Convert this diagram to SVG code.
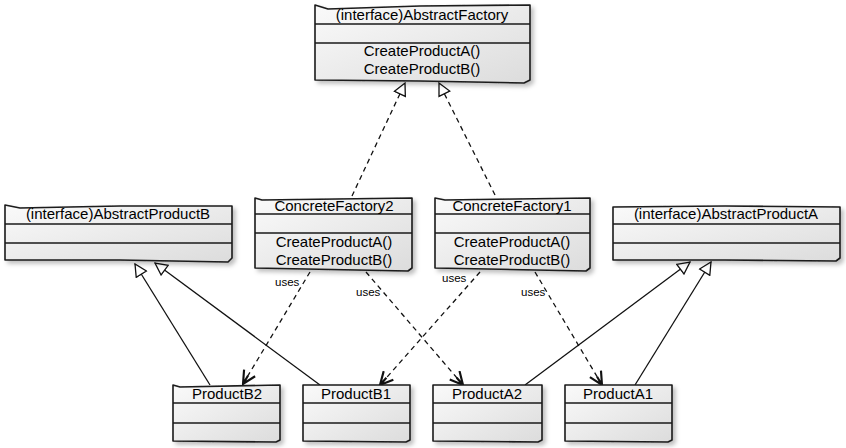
<svg xmlns="http://www.w3.org/2000/svg" width="846" height="448" viewBox="0 0 846 448">
<style>
.box{fill:url(#g);stroke:#1a1a1a;stroke-width:1.6;stroke-linejoin:round;filter:url(#sh)}
.sep{stroke:#1a1a1a;stroke-width:1.4;fill:none}
.t{font-family:"Liberation Sans",Arial,sans-serif;font-size:15px;fill:#000;text-anchor:middle}
.lbl{font-family:"Liberation Sans",Arial,sans-serif;font-size:11.5px;fill:#000}
.dash{stroke:#111;stroke-width:1.3;fill:none;stroke-dasharray:5,4}
.solid{stroke:#111;stroke-width:1.3;fill:none}
</style>
<defs>
<linearGradient id="g" x1="0" y1="0" x2="1" y2="1">
<stop offset="0" stop-color="#fafafa"/>
<stop offset="1" stop-color="#dcdcdc"/>
</linearGradient>
<filter id="sh" x="-5%" y="-5%" width="115%" height="125%">
<feDropShadow dx="3" dy="3" stdDeviation="2" flood-color="#000" flood-opacity="0.25"/>
</filter>
<marker id="tri" viewBox="0 0 14 14" refX="13" refY="7" markerWidth="14" markerHeight="14" markerUnits="userSpaceOnUse" orient="auto">
<path d="M1,1 L13,7 L1,13 Z" fill="#fff" stroke="#111" stroke-width="1.3"/>
</marker>
<marker id="open" viewBox="0 0 14 14" refX="13" refY="7" markerWidth="15" markerHeight="15" markerUnits="userSpaceOnUse" orient="auto">
<path d="M1,1 L13,7 L1,13 M13,7 L4,7" fill="none" stroke="#111" stroke-width="2"/>
</marker>
</defs>

<g id="connectors">
<path class="dash" d="M352,196 L405,83" marker-end="url(#tri)"/>
<path class="dash" d="M495,195 L439,83" marker-end="url(#tri)"/>
<path class="solid" d="M210,385 L135,264" marker-end="url(#tri)"/>
<path class="solid" d="M320,385 L155,263" marker-end="url(#tri)"/>
<path class="solid" d="M525,385 L690,262" marker-end="url(#tri)"/>
<path class="solid" d="M635,385 L711,262" marker-end="url(#tri)"/>
<path class="dash" d="M310,272 L243,384" marker-end="url(#open)"/>
<path class="dash" d="M366,272 L463,385" marker-end="url(#open)"/>
<path class="dash" d="M480,272 L380,385" marker-end="url(#open)"/>
<path class="dash" d="M535,272 L602,385" marker-end="url(#open)"/>
<text class="lbl" x="275" y="286">uses</text>
<text class="lbl" x="356" y="296">uses</text>
<text class="lbl" x="442" y="282">uses</text>
<text class="lbl" x="521" y="296">uses</text>
</g>

<g id="AbstractFactory">
<path class="box" d="M315,5 L328,9 L420,6 L530,5 L530,80 L524,83 L420,81 L315,80 Z"/>
<path class="sep" d="M315,24 L530,24 M315,43 L530,43"/>
<text class="t" x="422" y="20">(interface)AbstractFactory</text>
<text class="t" x="422" y="56">CreateProductA()</text>
<text class="t" x="422" y="74">CreateProductB()</text>
</g>

<g id="AbstractProductB">
<path class="box" d="M5,205 L20,208 L120,206 L232,206 L232,258 L228,262 L120,260 L5,260 Z"/>
<path class="sep" d="M5,224 L232,224 M5,243 L232,243"/>
<text class="t" x="118" y="219">(interface)AbstractProductB</text>
</g>

<g id="ConcreteFactory2">
<path class="box" d="M255,198 L262,200 L412,198 L412,268 L408,271 L255,268 Z"/>
<path class="sep" d="M255,214 L412,214 M255,233 L412,233"/>
<text class="t" x="334" y="211">ConcreteFactory2</text>
<text class="t" x="334" y="247">CreateProductA()</text>
<text class="t" x="334" y="265">CreateProductB()</text>
</g>

<g id="ConcreteFactory1">
<path class="box" d="M435,198 L445,200 L590,198 L590,268 L586,271 L435,268 Z"/>
<path class="sep" d="M435,214 L590,214 M435,233 L590,233"/>
<text class="t" x="512" y="211">ConcreteFactory1</text>
<text class="t" x="512" y="247">CreateProductA()</text>
<text class="t" x="512" y="265">CreateProductB()</text>
</g>

<g id="AbstractProductA">
<path class="box" d="M613,207 L725,206 L840,207 L840,258 L836,261 L725,260 L613,260 Z"/>
<path class="sep" d="M613,224 L840,224 M613,243 L840,243"/>
<text class="t" x="726" y="219">(interface)AbstractProductA</text>
</g>

<g id="ProductB2">
<path class="box" d="M173,385 L180,387 L280,385 L280,440 L276,442 L173,441 Z"/>
<path class="sep" d="M173,403 L280,403 M173,423 L280,423"/>
<text class="t" x="227" y="399">ProductB2</text>
</g>

<g id="ProductB1">
<path class="box" d="M303,385 L410,385 L410,440 L406,442 L303,441 Z"/>
<path class="sep" d="M303,403 L410,403 M303,423 L410,423"/>
<text class="t" x="356" y="399">ProductB1</text>
</g>

<g id="ProductA2">
<path class="box" d="M433,385 L542,385 L542,440 L538,442 L433,441 Z"/>
<path class="sep" d="M433,403 L542,403 M433,423 L542,423"/>
<text class="t" x="487" y="399">ProductA2</text>
</g>

<g id="ProductA1">
<path class="box" d="M565,385 L672,385 L672,440 L668,442 L565,441 Z"/>
<path class="sep" d="M565,403 L672,403 M565,423 L672,423"/>
<text class="t" x="618" y="399">ProductA1</text>
</g>
</svg>
